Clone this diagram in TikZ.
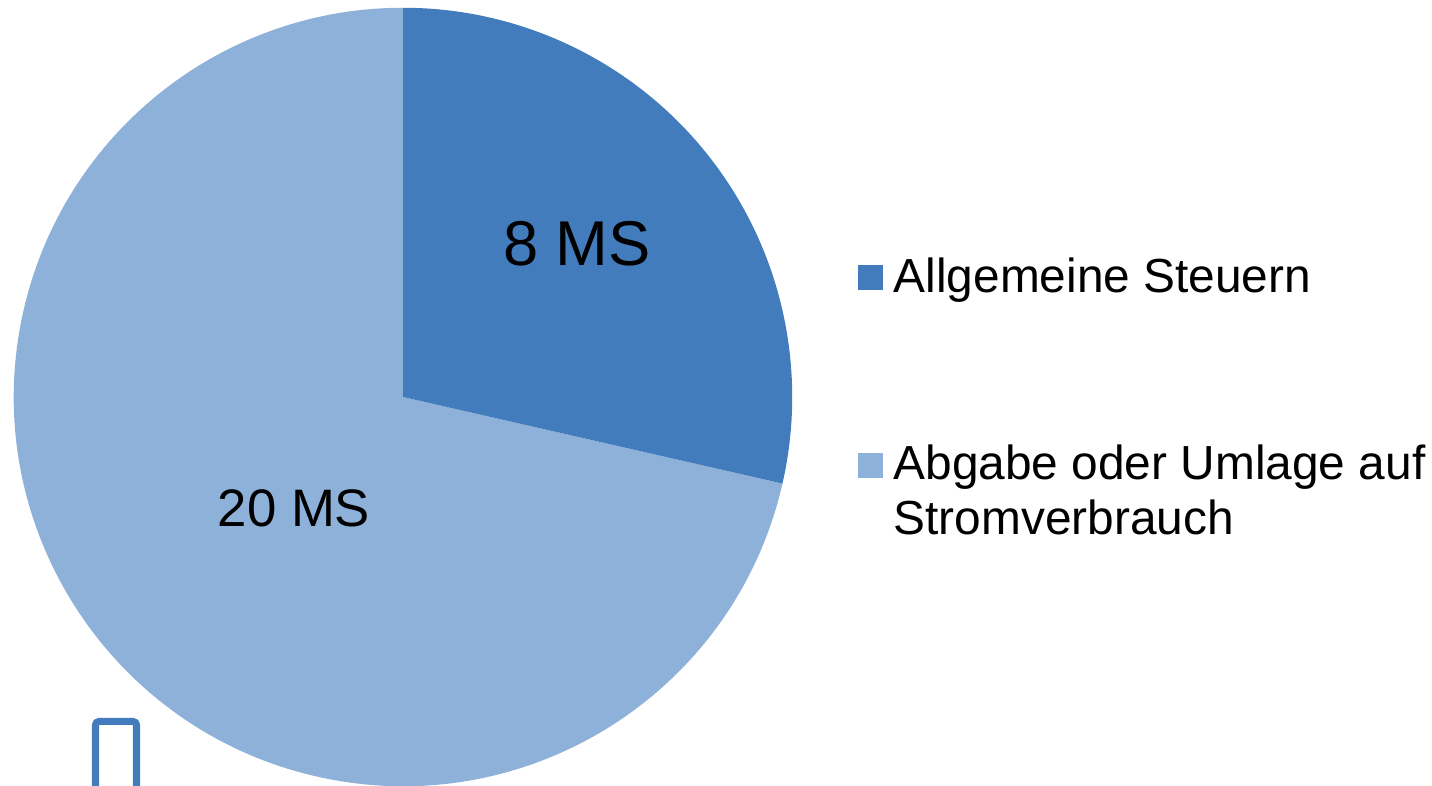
\documentclass[tikz,border=0pt]{standalone}
\usepackage{fontspec}
\setmainfont{Liberation Sans}
\definecolor{darkslice}{RGB}{66,124,189}
\definecolor{lightslice}{RGB}{142,177,217}
\begin{document}
\begin{tikzpicture}[x=0.01cm,y=0.01cm,
  lbl/.style={inner sep=0pt, anchor=base},
  legtext/.style={inner sep=0pt, anchor=base west, font=\fontsize{13.6pt}{15.6pt}\selectfont},
  legbox/.style={inner sep=0pt, minimum size=0.25cm, anchor=center}]
\useasboundingbox (0,0) rectangle (1432,786);
\coordinate (c) at (403,389);
% pie slices
\fill[lightslice] (c) -- ++(-12.857:3.89cm) arc[start angle=-12.857, end angle=-270, radius=3.89cm] -- cycle;
\fill[darkslice] (c) -- ++(90:3.89cm) arc[start angle=90, end angle=-12.857, radius=3.89cm] -- cycle;
% slice labels
\node[lbl, font=\fontsize{18pt}{20pt}\selectfont] (l8) at (577,520) {8 MS};
\node[lbl, font=\fontsize{15pt}{17pt}\selectfont] (l20) at (294,259) {20 MS};
% legend
\node[legbox, fill=darkslice] (k1) at (870.5,508.5) {};
\node[legtext] (t1) at (893,493) {Allgemeine Steuern};
\node[legbox, fill=lightslice] (k2) at (870.5,320.5) {};
\node[legtext] (t2) at (893,306) {Abgabe oder Umlage auf};
\node[legtext] (t3) at (893,251) {Stromverbrauch};
% missing-glyph box
\draw[darkslice, line width=2pt, rounded corners=1pt] (95.5,-5) -- (95.5,64.5) -- (136.5,64.5) -- (136.5,-5);
\end{tikzpicture}
\end{document}
